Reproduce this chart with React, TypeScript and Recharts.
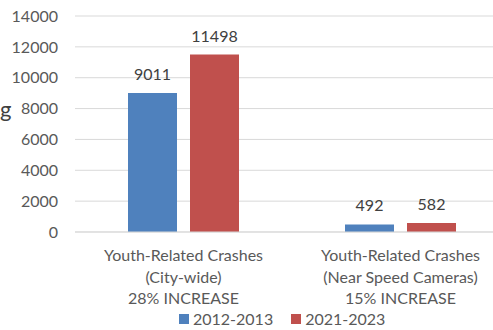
import React from 'react'
import { BarChart, Bar, XAxis, YAxis, CartesianGrid, Legend, LabelList } from 'recharts'

const categories = ['City-wide', 'Near Speed Cameras']
const labelLines = [
  ['Youth-Related Crashes', '(City-wide)', '28% INCREASE'],
  ['Youth-Related Crashes', '(Near Speed Cameras)', '15% INCREASE'],
]
const crashes2012 = [9011, 492]
const crashes2021 = [11498, 582]
const yTicks = [0, 2000, 4000, 6000, 8000, 10000, 12000, 14000]
const seriesNames = ['2012-2013', '2021-2023']

const data = categories.map((c, i) => ({
  name: c,
  a: crashes2012[i],
  b: crashes2021[i],
}))

const FONT = 'Lato, "Liberation Sans", sans-serif'
const BLUE = '#4f81bd'
const RED = '#c0504d'

function CategoryTick({ x, y, index }: any) {
  const lines = labelLines[index] || []
  return (
    <text x={x} y={y} textAnchor="middle" fill="#595959" fontSize={16} fontFamily={FONT}>
      {lines.map((l, i) => (
        <tspan key={i} x={x} dy={i === 0 ? 21 : 21.5}>{l}</tspan>
      ))}
    </text>
  )
}

function LegendBox() {
  const colors = [BLUE, RED]
  return (
    <div style={{ display: 'flex', gap: 18, fontFamily: FONT, fontSize: 16, color: '#595959' }}>
      {seriesNames.map((s, i) => (
        <div key={s} style={{ display: 'flex', alignItems: 'center', gap: 4 }}>
          <span style={{ width: 10, height: 10, background: colors[i], display: 'inline-block' }} />
          <span>{s}</span>
        </div>
      ))}
    </div>
  )
}

export default function App() {
  return (
    <div style={{ position: 'absolute', left: 0, top: 0, width: 493, height: 330, overflow: 'hidden', background: '#fff' }}>
      <svg style={{ position: 'absolute', left: 0, top: 0 }} width={30} height={330}>
        <text x={0} y={117} fontSize={22} fontFamily={FONT} fill="#404040">g</text>
      </svg>
      <BarChart
        width={530}
        height={330}
        data={data}
        margin={{ top: 16, right: 21, left: 0, bottom: 0 }}
        barSize={49}
        barGap={13}
      >
        <CartesianGrid vertical={false} stroke="#d9d9d9" />
        <XAxis
          dataKey="name"
          axisLine={{ stroke: '#d9d9d9' }}
          tickLine={false}
          tick={<CategoryTick />}
          interval={0}
          height={79}
        />
        <YAxis
          width={75}
          domain={[0, 14000]}
          ticks={yTicks}
          axisLine={false}
          tickLine={false}
          tickMargin={11}
          tick={{ fill: '#595959', fontSize: 16, fontFamily: FONT }}
        />
        <Legend
          verticalAlign="bottom"
          content={<LegendBox />}
          wrapperStyle={{ top: 309, left: 179, width: 'auto' }}
        />
        <Bar dataKey="a" name={seriesNames[0]} fill={BLUE} isAnimationActive={false}>
          <LabelList dataKey="a" position="top" offset={13} fill="#404040" fontSize={16} fontFamily={FONT} />
        </Bar>
        <Bar dataKey="b" name={seriesNames[1]} fill={RED} isAnimationActive={false}>
          <LabelList dataKey="b" position="top" offset={13} fill="#404040" fontSize={16} fontFamily={FONT} />
        </Bar>
      </BarChart>
    </div>
  )
}
